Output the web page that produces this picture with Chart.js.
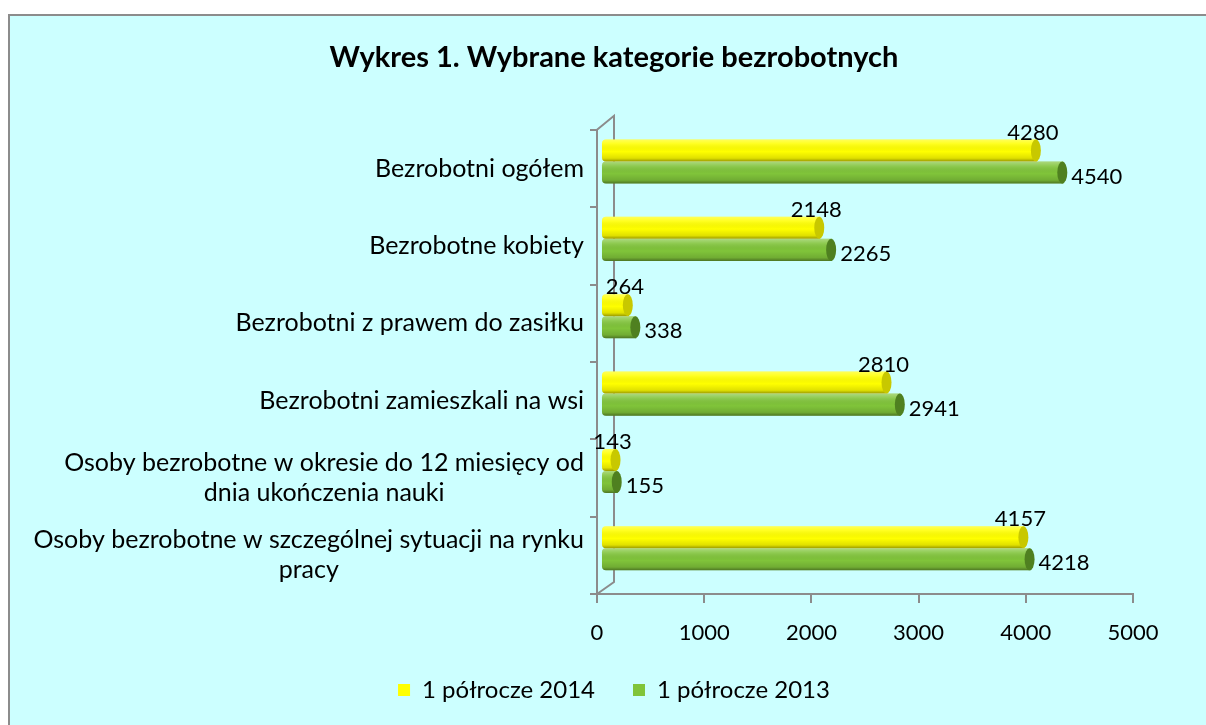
<!DOCTYPE html>
<html>
<head>
<meta charset="utf-8">
<script src="https://cdn.jsdelivr.net/npm/chart.js@4/dist/chart.umd.min.js"></script>
<style>
    html, body { margin: 0; padding: 0; background: #fff; overflow: hidden; }
    #frame {
        position: absolute; left: 8px; top: 14px; width: 1300px; height: 800px;
        background: #ccffff; border-left: 2px solid #8c8c8c; border-top: 2px solid #8c8c8c;
    }
    #wrap { position: absolute; left: 0; top: 0; width: 1206px; height: 725px; }
</style>
</head>
<body>
<div id="frame"></div>
<div id="wrap"><canvas id="chart"></canvas></div>
<script>
// Categories, top to bottom
const categories = [
    'Bezrobotni ogółem',
    'Bezrobotne kobiety',
    'Bezrobotni z prawem do zasiłku',
    'Bezrobotni zamieszkali na wsi',
    ['Osoby bezrobotne w okresie do 12 miesięcy od', 'dnia ukończenia nauki'],
    ['Osoby bezrobotne w szczególnej sytuacji na rynku', 'pracy']
];
const seriesNames = ['1 półrocze 2014', '1 półrocze 2013'];
const values2014 = [4280, 2148, 264, 2810, 143, 4157];
const values2013 = [4540, 2265, 338, 2941, 155, 4218];
const axisMin = 0;
const axisMax = 5000;
const axisStep = 1000;

const FONT = 'Lato';
const GREY = '#8c8c8c';
const BAR_SHIFT_Y = -7;   // bars sit a little behind the front axis (3D look)
const DEPTH_X = 17;
const DEPTH_Y = -14;

Chart.defaults.font.family = FONT;
Chart.defaults.color = '#000';

// back wall lines of the 3D frame
const wallPlugin = {
    id: 'wall',
    beforeDatasetsDraw(chart) {
        const { ctx, chartArea: a } = chart;
        ctx.save();
        ctx.strokeStyle = GREY;
        ctx.lineWidth = 2;
        ctx.beginPath();
        ctx.moveTo(a.left, a.top);
        ctx.lineTo(a.left + DEPTH_X, a.top + DEPTH_Y);
        ctx.lineTo(a.left + DEPTH_X, a.bottom + DEPTH_Y + 2);
        ctx.lineTo(a.left, a.bottom);
        ctx.stroke();
        ctx.restore();
    }
};

// category labels: block right-aligned, lines centred (like Excel)
const categoryLabelPlugin = {
    id: 'catLabels',
    afterDraw(chart) {
        const { ctx } = chart;
        const yScale = chart.scales.y;
        const right = yScale.right - 13;
        ctx.save();
        ctx.font = '25px ' + FONT;
        ctx.fillStyle = '#000';
        ctx.textAlign = 'center';
        ctx.textBaseline = 'middle';
        chart.data.labels.forEach((label, i) => {
            const lines = Array.isArray(label) ? label : [label];
            const widest = Math.max(...lines.map(l => ctx.measureText(l).width));
            const cx = right - widest / 2;
            const cy = yScale.getPixelForTick(i);
            const lh = 30;
            lines.forEach((line, j) => {
                ctx.fillText(line, cx, cy + (j - (lines.length - 1) / 2) * lh);
            });
        });
        ctx.restore();
    }
};

// cylinder shading, end caps and value labels
const cylinderPlugin = {
    id: 'cylinders',
    beforeDatasetsDraw(chart) {
        chart.ctx.save();
        chart.ctx.translate(0, BAR_SHIFT_Y);
    },
    afterDatasetsDraw(chart) {
        const { ctx } = chart;
        const capColors = ['#c8c800', '#4f8020'];
        chart.data.datasets.forEach((ds, di) => {
            const meta = chart.getDatasetMeta(di);
            meta.data.forEach((el, i) => {
                const h = el.height;
                const top = el.y - h / 2;
                const w = el.x - el.base;
                // body shading
                const g = ctx.createLinearGradient(0, top, 0, top + h);
                g.addColorStop(0, 'rgba(255,255,255,0.35)');
                g.addColorStop(0.2, 'rgba(255,255,255,0.12)');
                g.addColorStop(0.55, 'rgba(0,0,0,0)');
                g.addColorStop(0.85, 'rgba(0,0,0,0.12)');
                g.addColorStop(1, 'rgba(0,0,0,0.4)');
                ctx.fillStyle = g;
                ctx.beginPath();
                ctx.roundRect(el.base, top, w, h, [4, 0, 0, 4]);
                ctx.fill();
                // end cap
                ctx.beginPath();
                ctx.ellipse(el.x - 1, el.y, 5, h / 2, 0, 0, Math.PI * 2);
                ctx.fillStyle = capColors[di];
                ctx.fill();
                // value label
                ctx.font = '22px ' + FONT;
                ctx.fillStyle = '#000';
                ctx.textBaseline = 'middle';
                const v = ds.data[i];
                if (di === 0) {
                    ctx.textAlign = 'center';
                    ctx.fillText(v, el.x - 4, el.y - 18);
                } else {
                    ctx.textAlign = 'left';
                    ctx.fillText(v, el.x + 8, el.y + 4);
                }
            });
        });
        ctx.restore();
    }
};

const ctx = document.getElementById('chart').getContext('2d');
new Chart(ctx, {
    type: 'bar',
    data: {
        labels: categories,
        datasets: [
            {
                label: seriesNames[0],
                data: values2014,
                backgroundColor: '#ffff00',
                xAxisID: 'xb',
                borderRadius: { topLeft: 4, bottomLeft: 4 },
                borderSkipped: false
            },
            {
                label: seriesNames[1],
                data: values2013,
                backgroundColor: '#80c43a',
                xAxisID: 'xb',
                borderRadius: { topLeft: 4, bottomLeft: 4 },
                borderSkipped: false
            }
        ]
    },
    options: {
        indexAxis: 'y',
        responsive: true,
        maintainAspectRatio: false,
        animation: false,
        categoryPercentage: 0.57,
        barPercentage: 1,
        layout: { padding: { top: 40, right: 73, bottom: 13, left: 95 } },
        scales: {
            y: {
                type: 'category',
                grid: { drawOnChartArea: false, offset: true, tickLength: 7, color: GREY, lineWidth: 2 },
                border: { color: GREY, width: 2 },
                ticks: { display: false },
                afterFit(scale) { scale.width = 502; }
            },
            x: {
                type: 'linear',
                position: 'bottom',
                min: axisMin,
                max: axisMax,
                grid: { drawOnChartArea: false, tickLength: 9, color: GREY, lineWidth: 2 },
                border: { color: GREY, width: 2 },
                ticks: {
                    stepSize: axisStep,
                    padding: 17,
                    font: { size: 22 },
                    color: '#000',
                    callback: v => String(v)
                },
                afterFit(scale) { scale.height = 46; }
            },
            // bar scale: the bars stand a bit back in depth, so their scale is slightly shorter
            xb: {
                type: 'linear',
                axis: 'x',
                position: 'bottom',
                display: false,
                min: -49,
                max: 5226
            }
        },
        plugins: {
            title: {
                display: true,
                text: 'Wykres 1. Wybrane kategorie bezrobotnych',
                font: { size: 29, weight: 'bold' },
                color: '#000',
                padding: { top: 0, bottom: 55 }
            },
            legend: {
                position: 'bottom',
                labels: { boxWidth: 12, boxHeight: 12, padding: 38, font: { size: 24 }, color: '#000' }
            },
            tooltip: { enabled: false }
        }
    },
    plugins: [wallPlugin, cylinderPlugin, categoryLabelPlugin]
});
</script>
</body>
</html>
